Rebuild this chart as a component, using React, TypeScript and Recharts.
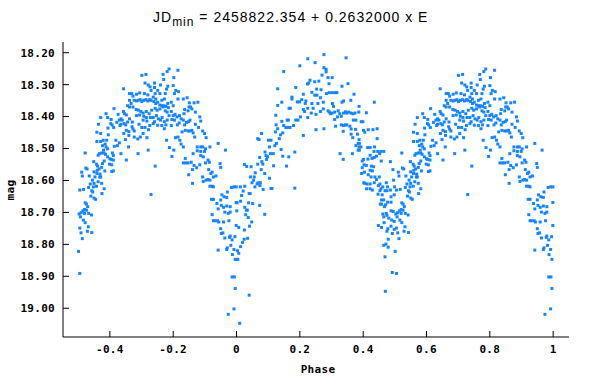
import { ScatterChart, Scatter, XAxis, YAxis } from "recharts";

// phased light curve, JDmin = 2458822.354 + 0.2632000 x E
// [phase, mag] pairs, one cycle 0..1
const primaryEgress: [number, number][] = [
  [0.010, 19.047], [0.040, 18.959], [0.000, 18.847], [0.004, 18.847], [0.003, 18.820], [0.007, 18.828],
  [0.013, 18.807], [0.019, 18.794], [0.024, 18.784], [0.035, 18.781], [0.025, 18.755], [0.041, 18.743],
  [0.048, 18.730], [0.037, 18.716], [0.007, 18.747], [0.029, 18.707], [0.031, 18.693], [0.034, 18.693],
  [0.026, 18.684], [0.038, 18.670], [0.051, 18.672], [0.073, 18.678], [0.089, 18.706], [0.016, 18.647],
  [0.013, 18.665], [0.021, 18.633], [0.040, 18.641], [0.043, 18.641], [0.058, 18.620], [0.049, 18.607],
  [0.026, 18.618], [0.012, 18.620], [0.002, 18.670], [0.001, 18.695], [0.065, 18.611], [0.074, 18.616],
  [0.084, 18.628], [0.109, 18.625], [0.112, 18.625], [0.068, 18.607], [0.075, 18.607], [0.054, 18.599],
  [0.044, 18.589], [0.056, 18.589], [0.059, 18.576], [0.046, 18.557], [0.032, 18.556], [0.025, 18.550],
  [0.078, 18.566], [0.083, 18.549], [0.089, 18.578], [0.104, 18.593], [0.073, 18.528], [0.080, 18.541],
  [0.095, 18.534], [0.093, 18.522], [0.098, 18.526], [0.067, 18.549], [0.117, 18.554], [0.107, 18.516],
  [0.116, 18.516], [0.090, 18.511], [0.104, 18.495], [0.109, 18.474], [0.067, 18.469], [0.071, 18.472],
  [0.079, 18.453],
];

const firstMaximum: [number, number][] = [
  [0.121, 18.491], [0.126, 18.484], [0.135, 18.469], [0.139, 18.457], [0.146, 18.451], [0.141, 18.503],
  [0.146, 18.524], [0.158, 18.555], [0.165, 18.526], [0.184, 18.511], [0.184, 18.624], [0.101, 18.474],
  [0.123, 18.448], [0.130, 18.438], [0.125, 18.426], [0.143, 18.415], [0.149, 18.428], [0.160, 18.411],
  [0.164, 18.411], [0.156, 18.434], [0.163, 18.434], [0.169, 18.434], [0.180, 18.428], [0.187, 18.411],
  [0.194, 18.411], [0.211, 18.459], [0.124, 18.396], [0.143, 18.355], [0.130, 18.365], [0.130, 18.313],
  [0.149, 18.259], [0.166, 18.374], [0.170, 18.374], [0.175, 18.339], [0.175, 18.345], [0.187, 18.309],
  [0.192, 18.354], [0.199, 18.354], [0.206, 18.347], [0.211, 18.330], [0.200, 18.241], [0.225, 18.219],
  [0.248, 18.231], [0.276, 18.206], [0.346, 18.216], [0.276, 18.247], [0.283, 18.252], [0.283, 18.260],
  [0.270, 18.270], [0.260, 18.289], [0.232, 18.286], [0.247, 18.291], [0.224, 18.298], [0.228, 18.295],
  [0.289, 18.278], [0.302, 18.278], [0.292, 18.297], [0.267, 18.316], [0.253, 18.314], [0.238, 18.324],
  [0.247, 18.333], [0.254, 18.333], [0.265, 18.341], [0.274, 18.355], [0.284, 18.328], [0.293, 18.325],
  [0.302, 18.325], [0.310, 18.325], [0.317, 18.325], [0.303, 18.359], [0.306, 18.368], [0.333, 18.305],
  [0.352, 18.297], [0.371, 18.330], [0.333, 18.355], [0.338, 18.351], [0.361, 18.349], [0.387, 18.368],
  [0.435, 18.355], [0.219, 18.351], [0.217, 18.359], [0.211, 18.378], [0.215, 18.384], [0.225, 18.374],
  [0.242, 18.374], [0.238, 18.359], [0.257, 18.359], [0.265, 18.384], [0.225, 18.403], [0.202, 18.401],
  [0.236, 18.389], [0.251, 18.393], [0.274, 18.376], [0.289, 18.382], [0.293, 18.386], [0.297, 18.391],
  [0.302, 18.389], [0.310, 18.386], [0.321, 18.382], [0.326, 18.391], [0.331, 18.399], [0.338, 18.389],
  [0.344, 18.385], [0.348, 18.389], [0.354, 18.386], [0.361, 18.389], [0.368, 18.391], [0.374, 18.389],
  [0.386, 18.386], [0.410, 18.388], [0.310, 18.409], [0.319, 18.401], [0.331, 18.426], [0.338, 18.428],
  [0.344, 18.426], [0.348, 18.426], [0.358, 18.430], [0.362, 18.439], [0.369, 18.411], [0.377, 18.411],
  [0.394, 18.416], [0.399, 18.416], [0.251, 18.441], [0.276, 18.438], [0.313, 18.430], [0.337, 18.446],
  [0.362, 18.455], [0.367, 18.466], [0.376, 18.440], [0.382, 18.455],
];

const secondaryMinimum: [number, number][] = [
  [0.401, 18.443], [0.405, 18.449], [0.416, 18.441], [0.431, 18.441], [0.444, 18.438], [0.444, 18.469],
  [0.387, 18.472], [0.384, 18.484], [0.388, 18.484], [0.377, 18.491], [0.387, 18.495], [0.393, 18.495],
  [0.327, 18.516], [0.337, 18.534], [0.366, 18.516], [0.384, 18.505], [0.388, 18.505], [0.414, 18.497],
  [0.422, 18.497], [0.436, 18.495], [0.434, 18.509], [0.446, 18.509], [0.452, 18.516], [0.456, 18.509],
  [0.465, 18.509], [0.422, 18.521], [0.435, 18.528], [0.401, 18.534], [0.397, 18.539], [0.415, 18.533],
  [0.428, 18.531], [0.442, 18.524], [0.457, 18.539], [0.486, 18.541], [0.397, 18.560], [0.403, 18.551],
  [0.410, 18.553], [0.426, 18.555], [0.433, 18.557], [0.422, 18.568], [0.429, 18.570], [0.404, 18.574],
  [0.395, 18.578], [0.416, 18.582], [0.425, 18.589], [0.437, 18.589], [0.442, 18.597], [0.451, 18.589],
  [0.494, 18.566], [0.511, 18.574], [0.513, 18.586], [0.524, 18.561], [0.522, 18.514], [0.402, 18.607],
  [0.405, 18.609], [0.412, 18.611], [0.422, 18.611], [0.435, 18.607], [0.411, 18.626], [0.422, 18.626],
  [0.448, 18.616], [0.453, 18.611], [0.429, 18.630], [0.453, 18.632], [0.456, 18.626], [0.462, 18.620],
  [0.473, 18.607], [0.477, 18.620], [0.447, 18.643], [0.460, 18.645], [0.469, 18.632], [0.475, 18.632],
  [0.486, 18.630], [0.499, 18.620], [0.496, 18.599], [0.505, 18.630], [0.517, 18.628], [0.528, 18.564],
  [0.488, 18.651], [0.498, 18.645], [0.458, 18.661], [0.465, 18.661], [0.454, 18.674], [0.458, 18.674],
  [0.477, 18.668], [0.488, 18.668], [0.467, 18.682], [0.471, 18.676], [0.522, 18.670], [0.526, 18.674],
  [0.520, 18.691], [0.530, 18.682], [0.462, 18.705], [0.473, 18.703], [0.475, 18.709], [0.488, 18.695],
  [0.495, 18.697], [0.503, 18.705], [0.509, 18.701], [0.515, 18.695], [0.520, 18.703], [0.526, 18.693],
  [0.465, 18.714], [0.481, 18.718], [0.490, 18.724], [0.498, 18.728], [0.507, 18.714], [0.516, 18.724],
  [0.448, 18.741], [0.458, 18.747], [0.466, 18.732], [0.478, 18.751], [0.488, 18.743], [0.498, 18.753],
  [0.505, 18.749], [0.522, 18.732], [0.529, 18.759], [0.475, 18.759], [0.492, 18.766], [0.509, 18.764],
  [0.479, 18.784], [0.513, 18.782], [0.465, 18.803], [0.472, 18.799], [0.479, 18.809], [0.501, 18.822],
  [0.469, 18.839], [0.492, 18.888], [0.505, 18.891], [0.470, 18.947],
  [0.532, 18.745], [0.543, 18.763], [0.542, 18.708], [0.533, 18.703], [0.540, 18.649], [0.546, 18.636],
  [0.550, 18.655], [0.555, 18.659], [0.543, 18.632], [0.538, 18.611], [0.545, 18.599], [0.533, 18.622],
  [0.535, 18.586], [0.550, 18.573], [0.553, 18.589], [0.559, 18.578], [0.566, 18.564], [0.561, 18.555],
  [0.569, 18.580], [0.571, 18.589], [0.549, 18.541], [0.558, 18.549], [0.560, 18.568], [0.574, 18.559],
  [0.584, 18.570], [0.575, 18.641], [0.582, 18.626], [0.558, 18.618], [0.563, 18.604], [0.550, 18.609],
  [0.548, 18.620], [0.568, 18.589], [0.574, 18.609], [0.582, 18.539], [0.593, 18.526], [0.577, 18.547],
  [0.599, 18.549], [0.611, 18.570], [0.606, 18.572], [0.606, 18.551], [0.604, 18.534], [0.611, 18.536],
  [0.586, 18.518], [0.582, 18.514], [0.574, 18.514], [0.567, 18.516], [0.563, 18.521], [0.580, 18.505],
  [0.588, 18.495], [0.577, 18.491], [0.571, 18.478], [0.559, 18.478], [0.571, 18.453], [0.579, 18.474],
  [0.590, 18.474], [0.585, 18.486], [0.593, 18.501], [0.600, 18.532], [0.608, 18.514], [0.611, 18.522],
  [0.614, 18.493], [0.624, 18.491], [0.630, 18.482], [0.619, 18.474], [0.635, 18.516], [0.652, 18.536],
  [0.659, 18.495], [0.689, 18.516], [0.721, 18.505], [0.743, 18.555], [0.730, 18.644], [0.559, 18.449],
  [0.564, 18.424], [0.571, 18.403], [0.588, 18.391], [0.593, 18.403], [0.604, 18.409], [0.603, 18.422],
  [0.607, 18.426], [0.594, 18.436], [0.595, 18.457], [0.612, 18.434], [0.613, 18.375],
];

const secondMaximum: [number, number][] = [
  [0.626, 18.393], [0.622, 18.418], [0.630, 18.411], [0.635, 18.407], [0.639, 18.411], [0.632, 18.428],
  [0.635, 18.424], [0.643, 18.384], [0.645, 18.422], [0.650, 18.426], [0.656, 18.417], [0.662, 18.407],
  [0.644, 18.453], [0.652, 18.443], [0.660, 18.447], [0.670, 18.432], [0.673, 18.439], [0.677, 18.445],
  [0.671, 18.417], [0.649, 18.472], [0.660, 18.459], [0.677, 18.464], [0.688, 18.470], [0.696, 18.464],
  [0.705, 18.453], [0.717, 18.466], [0.711, 18.434], [0.722, 18.441], [0.701, 18.434], [0.692, 18.424],
  [0.705, 18.411], [0.717, 18.414], [0.726, 18.428], [0.737, 18.422], [0.741, 18.416], [0.751, 18.427],
  [0.760, 18.411], [0.765, 18.403], [0.772, 18.416], [0.781, 18.411], [0.772, 18.438], [0.779, 18.474],
  [0.788, 18.497], [0.796, 18.525], [0.802, 18.505], [0.807, 18.466], [0.815, 18.464], [0.821, 18.474],
  [0.825, 18.486], [0.832, 18.495], [0.828, 18.448], [0.838, 18.443], [0.847, 18.445], [0.853, 18.445],
  [0.859, 18.443], [0.863, 18.451], [0.868, 18.464], [0.836, 18.426], [0.842, 18.418], [0.849, 18.416],
  [0.853, 18.411], [0.832, 18.411], [0.825, 18.407], [0.819, 18.420], [0.813, 18.426], [0.804, 18.411],
  [0.794, 18.428], [0.796, 18.409], [0.787, 18.397], [0.800, 18.397], [0.794, 18.384], [0.806, 18.393],
  [0.812, 18.401], [0.820, 18.397], [0.836, 18.378], [0.834, 18.391], [0.847, 18.382], [0.855, 18.370],
  [0.859, 18.376], [0.850, 18.370], [0.870, 18.386], [0.884, 18.401], [0.887, 18.414], [0.870, 18.424],
  [0.880, 18.434], [0.893, 18.445], [0.899, 18.453], [0.904, 18.466], [0.893, 18.495], [0.876, 18.495],
  [0.887, 18.495], [0.902, 18.501], [0.916, 18.495], [0.876, 18.507], [0.887, 18.509], [0.863, 18.516],
  [0.838, 18.531], [0.832, 18.545], [0.840, 18.545], [0.847, 18.545], [0.857, 18.543], [0.866, 18.553],
  [0.874, 18.560], [0.861, 18.566], [0.849, 18.582], [0.861, 18.609], [0.884, 18.551], [0.887, 18.522],
  [0.895, 18.526], [0.899, 18.509], [0.910, 18.536], [0.914, 18.543], [0.902, 18.545], [0.912, 18.566],
  [0.919, 18.578], [0.923, 18.574], [0.927, 18.589], [0.935, 18.586], [0.893, 18.589], [0.895, 18.603],
  [0.904, 18.599], [0.910, 18.597], [0.916, 18.599], [0.923, 18.618], [0.927, 18.620], [0.916, 18.618],
  [0.787, 18.251], [0.781, 18.259], [0.815, 18.255], [0.802, 18.278], [0.768, 18.268], [0.770, 18.284],
  [0.701, 18.271], [0.714, 18.268], [0.711, 18.295], [0.721, 18.301], [0.741, 18.295], [0.727, 18.307],
  [0.741, 18.309], [0.643, 18.313], [0.662, 18.328], [0.669, 18.328], [0.673, 18.336], [0.684, 18.330],
  [0.694, 18.326], [0.709, 18.328], [0.720, 18.332], [0.730, 18.318], [0.743, 18.328], [0.758, 18.328],
  [0.760, 18.301], [0.779, 18.314], [0.783, 18.305], [0.800, 18.303], [0.808, 18.318], [0.817, 18.322],
  [0.804, 18.328], [0.775, 18.328], [0.751, 18.318], [0.737, 18.339], [0.745, 18.345], [0.751, 18.355],
  [0.764, 18.349], [0.772, 18.345], [0.783, 18.359], [0.794, 18.355], [0.800, 18.366], [0.815, 18.345],
  [0.832, 18.345], [0.844, 18.341], [0.851, 18.357], [0.866, 18.357], [0.878, 18.355], [0.662, 18.349],
  [0.667, 18.359], [0.677, 18.349], [0.684, 18.351], [0.690, 18.349], [0.696, 18.347], [0.701, 18.353],
  [0.707, 18.349], [0.714, 18.347], [0.720, 18.351], [0.726, 18.347], [0.730, 18.349], [0.739, 18.353],
  [0.745, 18.359], [0.758, 18.364], [0.764, 18.366], [0.770, 18.366], [0.777, 18.368], [0.785, 18.372],
  [0.656, 18.366], [0.662, 18.370], [0.673, 18.370], [0.683, 18.378], [0.690, 18.380], [0.698, 18.384],
  [0.705, 18.389], [0.715, 18.384], [0.724, 18.391], [0.732, 18.380], [0.743, 18.374], [0.749, 18.380],
  [0.758, 18.376], [0.768, 18.370], [0.775, 18.382], [0.781, 18.386], [0.684, 18.397], [0.694, 18.395],
  [0.707, 18.399], [0.715, 18.403], [0.728, 18.403], [0.737, 18.403], [0.747, 18.397], [0.753, 18.407],
  [0.764, 18.428], [0.777, 18.426], [0.646, 18.391], [0.652, 18.395],
];

const primaryIngress: [number, number][] = [
  [0.942, 18.484], [0.948, 18.547], [0.950, 18.559], [0.965, 18.505], [0.921, 18.659], [0.927, 18.659],
  [0.938, 18.672], [0.942, 18.689], [0.950, 18.661], [0.954, 18.645], [0.961, 18.651], [0.971, 18.636],
  [0.969, 18.653], [0.952, 18.678], [0.959, 18.684], [0.969, 18.680], [0.980, 18.682], [0.984, 18.622],
  [0.992, 18.620], [0.999, 18.620], [0.963, 18.699], [0.974, 18.703], [0.980, 18.699], [0.923, 18.707],
  [0.927, 18.726], [0.931, 18.726], [0.940, 18.726], [0.944, 18.730], [0.959, 18.730], [0.976, 18.726],
  [0.999, 18.669], [0.999, 18.741], [0.950, 18.751], [0.952, 18.766], [0.957, 18.764], [0.963, 18.780],
  [0.978, 18.778], [0.986, 18.786], [0.982, 18.803], [0.980, 18.774], [0.995, 18.776], [0.942, 18.818],
  [0.971, 18.811], [0.969, 18.816], [0.992, 18.816], [0.987, 18.832], [0.996, 18.847], [0.986, 18.902],
  [0.993, 18.902], [0.996, 18.938], [0.992, 19.002], [0.974, 19.019],
];

const xTicks = [-0.4, -0.2, 0, 0.2, 0.4, 0.6, 0.8, 1];
const yTicks = [18.2, 18.3, 18.4, 18.5, 18.6, 18.7, 18.8, 18.9, 19.0];

const POINT_COLOR = "#1585ff";
const MONO = "'DejaVu Sans Mono', monospace";

// phase range shown is -0.5..1, so the second half of the cycle is drawn twice
const observations = [
  ...primaryEgress,
  ...firstMaximum,
  ...secondaryMinimum,
  ...secondMaximum,
  ...primaryIngress,
];
const points = observations.flatMap(([phase, mag]) =>
  phase >= 0.5
    ? [
        { phase, mag },
        { phase: phase - 1, mag },
      ]
    : [{ phase, mag }]
);

const tickStyle = {
  fontFamily: MONO,
  fontSize: 11,
  fontWeight: "bold",
  fill: "#000",
  letterSpacing: 0.3,
};

const SquareDot = (props: any) => (
  <rect
    x={props.cx - 1.5}
    y={props.cy - 1.5}
    width={3}
    height={3}
    fill={POINT_COLOR}
  />
);

export default function App() {
  return (
    <div
      style={{
        position: "absolute",
        left: 0,
        top: 0,
        width: 610,
        height: 387,
        background: "#fff",
      }}
    >
      <ScatterChart
        width={610}
        height={387}
        margin={{ top: 42, right: 41, bottom: 26, left: 8 }}
      >
        <XAxis
          xAxisId="bottom"
          type="number"
          dataKey="phase"
          domain={[-0.548, 1.05]}
          allowDataOverflow
          ticks={xTicks}
          interval={0}
          tickFormatter={(v: number) => String(v)}
          height={24}
          tickSize={-6}
          tickMargin={14}
          tick={tickStyle}
          stroke="#000"
          axisLine={{ stroke: "#000" }}
          tickLine={{ stroke: "#000" }}
        />
        <XAxis
          xAxisId="top"
          orientation="top"
          type="number"
          dataKey="phase"
          domain={[-0.548, 1.05]}
          allowDataOverflow
          ticks={xTicks}
          interval={0}
          height={0}
          tickSize={-6}
          tick={false}
          axisLine={{ stroke: "#000" }}
          tickLine={{ stroke: "#000" }}
        />
        <YAxis
          yAxisId="left"
          type="number"
          dataKey="mag"
          reversed
          domain={[18.1665, 19.09]}
          allowDataOverflow
          ticks={yTicks}
          interval={0}
          tickFormatter={(v: number) => v.toFixed(2)}
          width={55}
          tickSize={-6}
          tickMargin={14}
          tick={tickStyle}
          axisLine={{ stroke: "#000" }}
          tickLine={{ stroke: "#000" }}
        />
        <YAxis
          yAxisId="right"
          orientation="right"
          type="number"
          dataKey="mag"
          reversed
          domain={[18.1665, 19.09]}
          allowDataOverflow
          ticks={yTicks}
          interval={0}
          width={0}
          tickSize={-6}
          tick={false}
          axisLine={{ stroke: "#000" }}
          tickLine={{ stroke: "#000" }}
        />
        <Scatter
          data={points}
          xAxisId="bottom"
          yAxisId="left"
          shape={SquareDot}
          isAnimationActive={false}
        />
      </ScatterChart>
      <svg
        width={610}
        height={387}
        style={{ position: "absolute", left: 0, top: 0, pointerEvents: "none" }}
      >
        <text
          x={153}
          y={22}
          fontFamily="'Liberation Sans', Arial, sans-serif"
          fontSize={14}
          letterSpacing={1}
          fill="#000"
        >
          JD
          <tspan fontSize={12} dy={4}>
            min
          </tspan>
          <tspan dy={-4}> = 2458822.354 + 0.2632000 x E</tspan>
        </text>
        <text
          x={318}
          y={369}
          textAnchor="middle"
          dominantBaseline="central"
          fontFamily={MONO}
          fontSize={11}
          fontWeight="bold"
          letterSpacing={0.3}
          fill="#000"
        >
          Phase
        </text>
        <text
          x={10.5}
          y={190}
          transform="rotate(-90 10.5 190)"
          textAnchor="middle"
          dominantBaseline="central"
          fontFamily={MONO}
          fontSize={11}
          fontWeight="bold"
          letterSpacing={0.3}
          fill="#000"
        >
          mag
        </text>
      </svg>
    </div>
  );
}
